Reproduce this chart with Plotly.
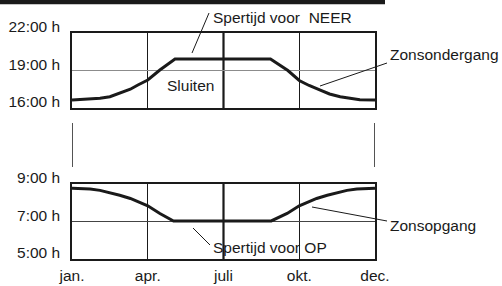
import plotly.graph_objects as go

W, H = 502, 286

# ---- data ----
month_labels = ["jan.", "apr.", "juli", "okt.", "dec."]
month_pos = [0, 1, 2, 3, 4]

sunset_x = [0.0, 0.24, 0.37, 0.5, 0.63, 0.77, 0.87, 1.0, 1.16, 1.36,
            2.62, 2.85, 3.0, 3.13, 3.27, 3.4, 3.54, 3.67, 3.8, 4.0]
sunset_h = [16.64, 16.70, 16.78, 16.90, 17.16, 17.50, 17.84, 18.24, 19.04, 19.92,
            19.92, 19.0, 18.2, 17.8, 17.45, 17.12, 16.9, 16.76, 16.66, 16.64]

sunrise_x = [0.0, 0.24, 0.37, 0.5, 0.63, 0.77, 0.88, 1.0, 1.16, 1.34,
             2.63, 2.84, 3.0, 3.12, 3.23, 3.37, 3.5, 3.63, 3.76, 4.0]
sunrise_h = [8.77, 8.73, 8.66, 8.54, 8.40, 8.23, 8.05, 7.84, 7.43, 7.03,
             7.03, 7.43, 7.84, 8.05, 8.23, 8.40, 8.54, 8.66, 8.73, 8.77]

top_ticks = [16, 19, 22]
top_ticktext = ["16:00 h", "19:00 h", "22:00 h"]
bot_ticks = [5, 7, 9]
bot_ticktext = ["5:00 h", "7:00 h", "9:00 h"]

FONT = "Liberation Sans, Arial, Helvetica, sans-serif"
FS = 15.5
INK = "#1a1a1a"

def px_x(p):
    return p / W

def px_y(p):
    return 1 - p / H

fig = go.Figure()
fig.add_trace(go.Scatter(x=sunset_x, y=sunset_h, mode="lines",
                         line=dict(color=INK, width=3), xaxis="x", yaxis="y",
                         showlegend=False, hoverinfo="skip"))
fig.add_trace(go.Scatter(x=sunrise_x, y=sunrise_h, mode="lines",
                         line=dict(color=INK, width=3), xaxis="x2", yaxis="y2",
                         showlegend=False, hoverinfo="skip"))

xdom = [px_x(72), px_x(375)]
common_x = dict(range=[0, 4], domain=xdom, tickvals=month_pos, showgrid=True,
                gridcolor=INK, gridwidth=1.3, zeroline=False, showline=True,
                linecolor=INK, linewidth=1.5, mirror=True, ticks="", fixedrange=True,
                automargin=False)
common_y = dict(showgrid=True, zeroline=False, showline=True, linecolor=INK,
                linewidth=1.5, mirror=True, ticks="", ticklabelstandoff=7,
                ticklabelshift=-6, tickfont=dict(family=FONT, size=FS, color=INK),
                fixedrange=True, automargin=False)

fig.update_layout(
    template="none",
    width=W, height=H, margin=dict(l=0, r=0, t=0, b=0, pad=0, autoexpand=False),
    paper_bgcolor="white", plot_bgcolor="white",
    font=dict(family=FONT, size=FS, color=INK),
    xaxis=dict(**common_x, anchor="y", showticklabels=False),
    yaxis=dict(**common_y, domain=[px_y(108), px_y(33)], range=[16, 22],
               tickvals=top_ticks, ticktext=top_ticktext, gridcolor="#8c8c8c", gridwidth=1),
    xaxis2=dict(**common_x, anchor="y2", ticktext=month_labels,
                tickfont=dict(family=FONT, size=FS, color=INK), ticklabelstandoff=2),
    yaxis2=dict(**common_y, domain=[px_y(259), px_y(184)], range=[5, 9],
                tickvals=bot_ticks, ticktext=bot_ticktext, gridcolor="#444444", gridwidth=1),
)

shapes = []
# thicker juli line in both panels
for xa, ya in (("x", "y"), ("x2", "y2")):
    shapes.append(dict(type="line", xref=xa, yref=ya + " domain", x0=2, x1=2, y0=0, y1=1,
                       line=dict(color=INK, width=2.2), layer="below"))
# connecting vertical lines between panels
for xv in (0, 4):
    shapes.append(dict(type="line", xref="x", yref="paper", x0=xv, x1=xv,
                       y0=px_y(123), y1=px_y(167), line=dict(color=INK, width=1.5)))
# top black bar
shapes.append(dict(type="rect", xref="paper", yref="paper", x0=0, x1=px_x(385),
                   y0=px_y(4.3), y1=1.0, fillcolor=INK, line=dict(width=0)))
# leader lines (pixel coords)
leaders = [((192, 53), (209, 13)),
           ((320, 86), (387, 63)),
           ((312, 207), (387, 221)),
           ((193, 228), (210, 245))]
for (a, b) in leaders:
    shapes.append(dict(type="line", xref="paper", yref="paper",
                       x0=px_x(a[0]), y0=px_y(a[1]), x1=px_x(b[0]), y1=px_y(b[1]),
                       line=dict(color=INK, width=1)))
fig.update_layout(shapes=shapes)

labels = [("Spertijd voor  NEER", 212, 17, "left"),
          ("Sluiten", 190, 86, "center"),
          ("Zonsondergang", 389, 55, "left"),
          ("Zonsopgang", 389, 225, "left"),
          ("Spertijd voor OP", 212, 248, "left")]
for t, x, y, anc in labels:
    fig.add_annotation(text=t, xref="paper", yref="paper", x=px_x(x), y=px_y(y),
                       xanchor=anc, yanchor="middle", showarrow=False,
                       font=dict(family=FONT, size=FS, color=INK), borderpad=0)

fig.write_html("out.html", config={"displayModeBar": False},
               post_script="document.body.style.margin='0';document.body.style.overflow='hidden';")
